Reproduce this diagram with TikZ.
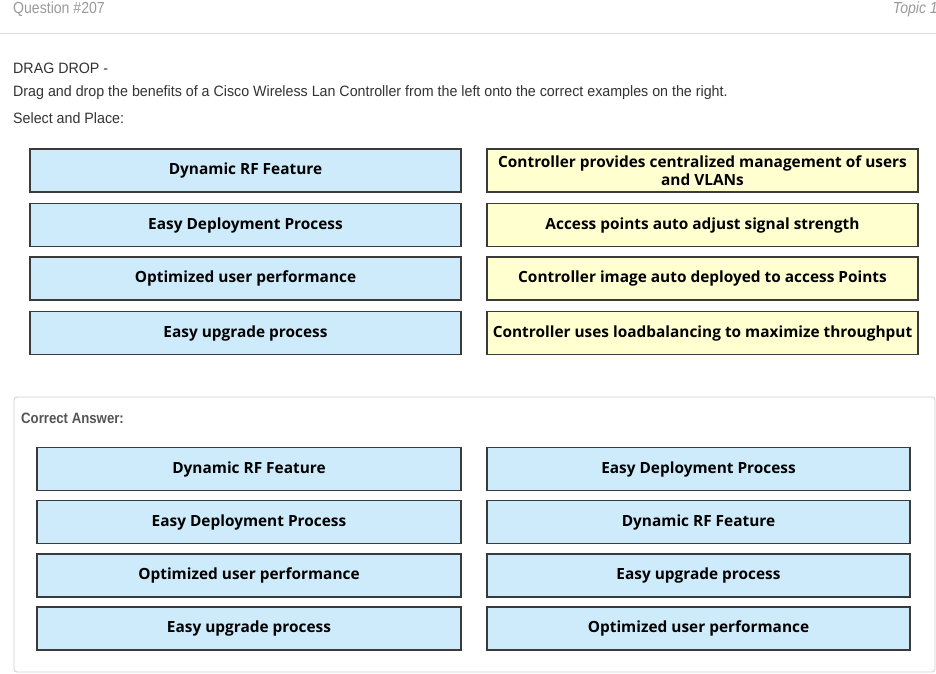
\documentclass[tikz,border=0pt]{standalone}
\usepackage{fontspec}
\newfontfamily\condfont[FakeStretch=0.88]{Liberation Sans}
\newfontfamily\paraFont[FakeStretch=0.95]{Liberation Sans}
\newfontfamily\boxfont{Open Sans}
\definecolor{boxblue}{HTML}{CDEBFB}
\definecolor{boxyellow}{HTML}{FFFFCF}
\definecolor{boxline}{HTML}{3A3A3A}
\definecolor{headgray}{HTML}{9A9A9A}
\definecolor{txtgray}{HTML}{333333}
\definecolor{answergray}{HTML}{555555}
\definecolor{panelline}{HTML}{D0D0D0}
\begin{document}
\begin{tikzpicture}[x=1pt,y=-1pt,
  head/.style={font=\condfont\fontsize{16}{18}\selectfont, text=headgray, inner sep=0pt},
  para/.style={font=\paraFont\fontsize{15}{18}\selectfont, text=txtgray, inner sep=0pt, anchor=west},
  optbox/.style={draw=boxline, line width=1.1pt, minimum width=431pt, minimum height=43pt,
    font=\boxfont\bfseries\fontsize{15.4}{18}\selectfont, align=center, inner sep=0pt, text=black},
  blue/.style={optbox, fill=boxblue},
  yellow/.style={optbox, fill=boxyellow}]
\useasboundingbox (0,0) rectangle (936,673);
\fill[white] (0,0) rectangle (936,673);
% header
\node[head, anchor=west] (q) at (13,9) {Question \#207};
\node[head, anchor=east, font=\condfont\itshape\fontsize{16}{18}\selectfont] (t) at (938,9) {Topic 1};
\coordinate (hl) at (0,33);
\coordinate (hr) at (936,33);
\draw[panelline!80, line width=0.8pt] (hl) -- (hr);
\node[para] (dd) at (13,68) {DRAG DROP -};
\node[para] (inst) at (13,93) {Drag and drop the benefits of a Cisco Wireless Lan Controller from the left onto the correct examples on the right.};
\node[para] (sp) at (13,118) {Select and Place:};
% question boxes
\node[blue] (l1) at (245.5,170.5) {Dynamic RF Feature};
\node[blue] (l2) at (245.5,225) {Easy Deployment Process};
\node[blue] (l3) at (245.5,278.5) {Optimized user performance};
\node[blue] (l4) at (245.5,333) {Easy upgrade process};
\node[yellow] (r1) at (702.5,170.5) {Controller provides centralized management of users\\and VLANs};
\node[yellow] (r2) at (702.5,225) {Access points auto adjust signal strength};
\node[yellow] (r3) at (702.5,278.5) {Controller image auto deployed to access Points};
\node[yellow] (r4) at (702.5,333) {Controller uses loadbalancing to maximize throughput};
% answer panel
\draw[panelline, line width=0.8pt, rounded corners=3pt] (14,397) rectangle (935,672);
\node[para, font=\condfont\bfseries\fontsize{15}{18}\selectfont, text=answergray] (ca) at (21,418) {Correct Answer:};
\node[blue, minimum width=424pt] (a1) at (249,469) {Dynamic RF Feature};
\node[blue, minimum width=424pt] (a2) at (249,522) {Easy Deployment Process};
\node[blue, minimum width=424pt] (a3) at (249,575.5) {Optimized user performance};
\node[blue, minimum width=424pt] (a4) at (249,628.5) {Easy upgrade process};
\node[blue, minimum width=423pt] (b1) at (698.5,469) {Easy Deployment Process};
\node[blue, minimum width=423pt] (b2) at (698.5,522) {Dynamic RF Feature};
\node[blue, minimum width=423pt] (b3) at (698.5,575.5) {Easy upgrade process};
\node[blue, minimum width=423pt] (b4) at (698.5,628.5) {Optimized user performance};
\end{tikzpicture}
\end{document}
